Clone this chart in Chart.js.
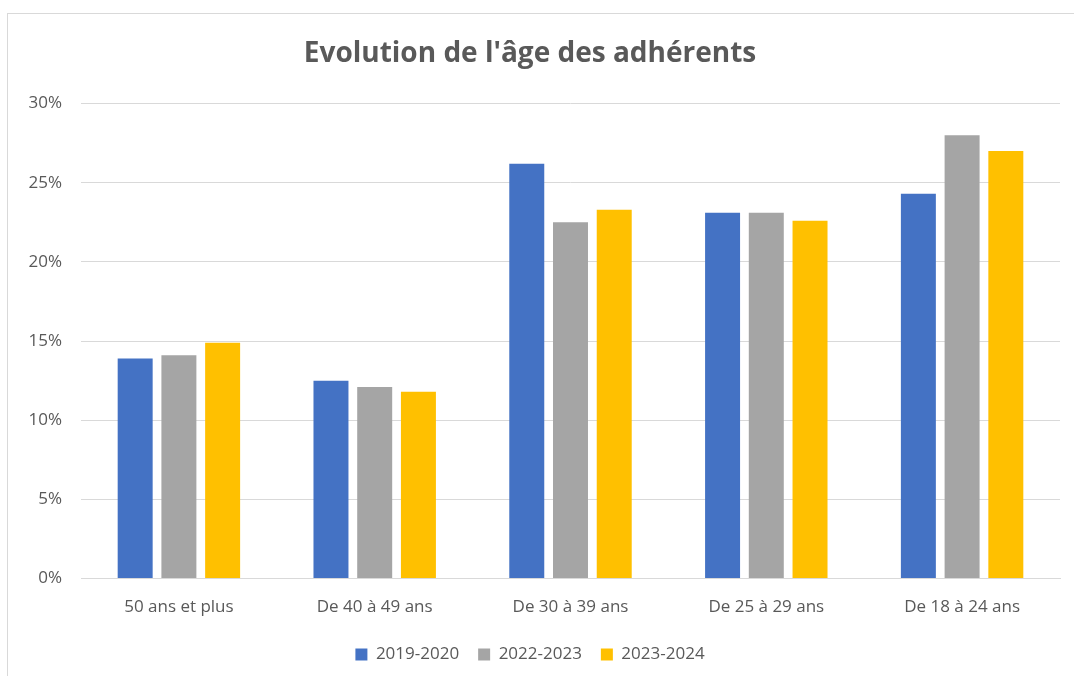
<!DOCTYPE html>
<html>
<head>
<meta charset="utf-8">
<script src="https://cdn.jsdelivr.net/npm/chart.js@4/dist/chart.umd.min.js"></script>
<style>
  html, body { margin: 0; padding: 0; background: #ffffff; overflow: hidden; }
  #frame { position: absolute; left: 7px; top: 13px; width: 1080px; height: 700px; border: 1px solid #d9d9d9; box-sizing: border-box; }
  #wrap { position: absolute; left: 0; top: 0; width: 1074px; height: 678px; }
</style>
</head>
<body>
<div id="frame"></div>
<div id="wrap"><canvas id="c" width="1074" height="678"></canvas></div>
<script>
const categories = ["50 ans et plus", "De 40 à 49 ans", "De 30 à 39 ans", "De 25 à 29 ans", "De 18 à 24 ans"];
const seriesNames = ["2019-2020", "2022-2023", "2023-2024"];
const s2019_2020 = [13.9, 12.5, 26.2, 23.1, 24.3];
const s2022_2023 = [14.1, 12.1, 22.5, 23.1, 28.0];
const s2023_2024 = [14.9, 11.8, 23.3, 22.6, 27.0];
const yTicks = [0, 5, 10, 15, 20, 25, 30];
const colors = ["#4472c4", "#a5a5a5", "#ffc000"];

const FONT = "'Open Sans', Lato, sans-serif";
Chart.defaults.font.family = FONT;
Chart.defaults.color = "#595959";

new Chart(document.getElementById("c"), {
  type: "bar",
  data: {
    labels: categories,
    datasets: [s2019_2020, s2022_2023, s2023_2024].map((d, i) => ({
      label: seriesNames[i],
      data: d,
      backgroundColor: colors[i],
      borderWidth: 0,
      barPercentage: 0.8,
      categoryPercentage: 0.67
    }))
  },
  options: {
    responsive: false,
    animation: false,
    layout: { padding: { left: 0, right: 14, top: 20, bottom: 5 } },
    plugins: {
      title: {
        display: true,
        text: "Evolution de l'âge des adhérents",
        color: "#595959",
        font: { size: 28, weight: "bold", family: FONT },
        padding: { top: 17, bottom: 33 }
      },
      legend: {
        position: "bottom",
        labels: {
          boxWidth: 12, boxHeight: 12, color: "#595959",
          font: { size: 17 }, padding: 19
        }
      },
      tooltip: { enabled: false }
    },
    scales: {
      x: {
        grid: { display: false },
        border: { display: true, color: "#d9d9d9" },
        ticks: { font: { size: 17 }, color: "#595959", padding: 10 }
      },
      y: {
        min: 0, max: 30,
        afterBuildTicks: (s) => { s.ticks = yTicks.map(v => ({ value: v })); },
        afterFit: (s) => { s.width = 81; },
        grid: { color: "#d9d9d9", drawTicks: false },
        border: { display: false },
        ticks: { font: { size: 17 }, color: "#595959", padding: 19, callback: (v) => v + "%" }
      }
    }
  }
});
</script>
</body>
</html>
